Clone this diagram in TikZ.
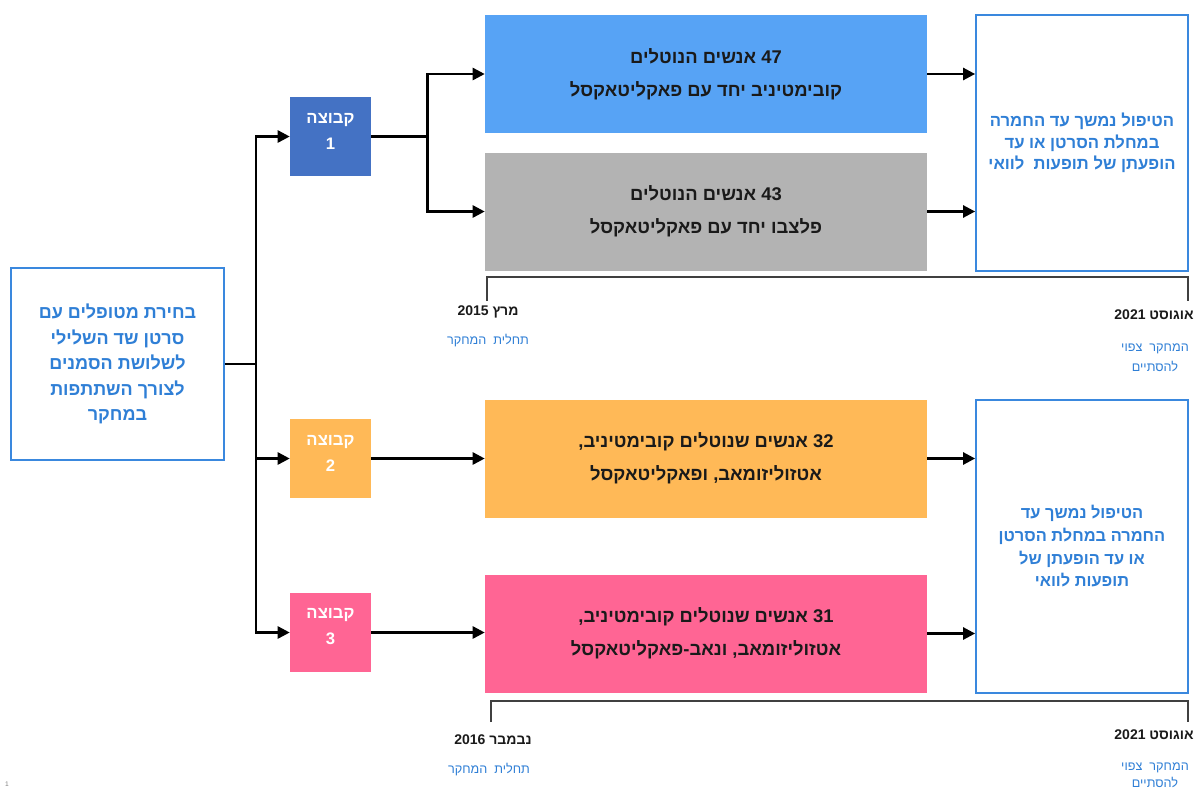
\documentclass[tikz,border=0pt]{standalone}
\usepackage{fontspec}
\setmainfont{Liberation Sans}
\newfontfamily\heb[Script=Hebrew]{Liberation Sans}
\TeXXeTstate=1
\usetikzlibrary{arrows.meta}
\definecolor{cframe}{HTML}{3A88DE}
\definecolor{ctext}{HTML}{2F7FD6}
\definecolor{cgone}{HTML}{4472C4}
\definecolor{cA}{HTML}{57A3F5}
\definecolor{cB}{HTML}{B3B3B3}
\definecolor{corange}{HTML}{FFB957}
\definecolor{cpink}{HTML}{FF6594}
\definecolor{cbr}{HTML}{404040}
\definecolor{cdark}{HTML}{1A1A1A}
\newcommand{\rtl}[1]{\beginR #1\endR}
\begin{document}
\begin{tikzpicture}[x=0.75pt,y=-0.75pt,
  framebox/.style={draw=cframe, line width=1.3pt, fill=white, text=ctext, font=\heb\bfseries, align=center, inner sep=0pt},
  groupbox/.style={draw=none, minimum width=60.75pt, minimum height=59.25pt, text=white, font=\heb\bfseries\fontsize{12.5}{19}\selectfont, align=center, inner sep=0pt},
  grouptext/.style={text=white, font=\heb\bfseries\fontsize{12.5}{19.5}\selectfont, align=center, inner sep=0pt},
  mainbox/.style={draw=none, minimum width=331.5pt, minimum height=88.5pt, text=cdark, font=\heb\bfseries\fontsize{13.8}{25}\selectfont, align=center, inner sep=0pt},
  arr/.style={-{Triangle[length=9pt,width=9pt]}, line width=1.9pt, black},
  conn/.style={line width=1.9pt, black},
  bracket/.style={line width=1.5pt, cbr},
  datelbl/.style={text=cdark, font=\heb\bfseries\fontsize{10.5}{12}\selectfont, inner sep=0pt},
  bluelbl/.style={text=ctext, font=\heb\fontsize{9.5}{12}\selectfont, inner sep=0pt, align=center}
]
\useasboundingbox[fill=white] (0,0) rectangle (1197,790);

% left box
\node[framebox, minimum width=159.75pt, minimum height=144pt, font=\heb\bfseries\fontsize{13.5}{19.2}\selectfont] (L) at (117.5,364)
  {\rtl{בחירת מטופלים עם}\\ \rtl{סרטן שד השלילי}\\ \rtl{לשלושת הסמנים}\\ \rtl{לצורך השתתפות}\\ \rtl{במחקר}};

% group boxes
\node[groupbox, fill=cgone] (g1) at (330.5,136.5) {};
\node[groupbox, fill=corange] (g2) at (330.5,458.5) {};
\node[groupbox, fill=cpink] (g3) at (330.5,632.5) {};
\node[grouptext] (t1) at (330.5,131) {\rtl{קבוצה}\\ 1};
\node[grouptext] (t2) at (330.5,453) {\rtl{קבוצה}\\ 2};
\node[grouptext] (t3) at (330.5,627) {\rtl{קבוצה}\\ 3};

% main boxes
\node[mainbox, fill=cA] (A) at (706,74) {\rtl{47 אנשים הנוטלים}\\ \rtl{קובימטיניב יחד עם פאקליטאקסל}};
\node[mainbox, fill=cB] (B) at (706,211.5) {\rtl{43 אנשים הנוטלים}\\ \rtl{פלצבו יחד עם פאקליטאקסל}};
\node[mainbox, fill=corange] (C) at (706,458.5) {\rtl{32 אנשים שנוטלים קובימטיניב,}\\ \rtl{אטזוליזומאב, ופאקליטאקסל}};
\node[mainbox, fill=cpink] (D) at (706,633.5) {\rtl{31 אנשים שנוטלים קובימטיניב,}\\ \rtl{אטזוליזומאב, ונאב-פאקליטאקסל}};

% right boxes
\node[framebox, minimum width=159pt, minimum height=192pt, font=\heb\bfseries\fontsize{12.5}{16.2}\selectfont] (R1) at (1082,143)
  {\rtl{הטיפול נמשך עד החמרה}\\ \rtl{במחלת הסרטן או עד}\\ \rtl{הופעתן של תופעות\ \ לוואי}};
\node[framebox, minimum width=159pt, minimum height=219.75pt, font=\heb\bfseries\fontsize{12.3}{17}\selectfont] (R2) at (1082,546.5)
  {\rtl{הטיפול נמשך עד}\\ \rtl{החמרה במחלת הסרטן}\\ \rtl{או עד הופעתן של}\\ \rtl{תופעות לוואי}};

% connectors: left split
\draw[conn] (L.east) -- ++(31,0) coordinate (j1);
\draw[arr] (j1) |- (g1.west);
\draw[arr] (j1) |- (g2.west);
\draw[arr] (j1) |- (g3.west);

% group 1 split
\draw[conn] (g1.east) -- ++(56,0) coordinate (j2);
\draw[arr] (j2) |- (A.west);
\draw[arr] (j2) |- (B.west);

% groups 2 and 3
\draw[arr] (g2.east) -- (g2.east -| C.west);
\draw[arr] (g3.east) -- (g3.east -| D.west);

% to right boxes
\draw[arr] (A.east) -- (A.east -| R1.west);
\draw[arr] (B.east) -- (B.east -| R1.west);
\draw[arr] (C.east) -- (C.east -| R2.west);
\draw[arr] (D.east) -- (D.east -| R2.west);

% timeline brackets
\draw[bracket] (487,301) -- (487,277) -- (1188,277) -- (1188,301);
\draw[bracket] (491,722) -- (491,701) -- (1188,701) -- (1188,722);

% timeline labels top
\node[datelbl] (d1) at (488,312) {\rtl{מרץ 2015}};
\node[bluelbl] (b1) at (488,341) {\rtl{תחלית\ \ המחקר}};
\node[datelbl] (d2) at (1154,315) {\rtl{אוגוסט 2021}};
\node[bluelbl] (b2) at (1155,349) {\rtl{המחקר\ \ צפוי}};
\node[bluelbl] (b3) at (1155,366) {\rtl{להסתיים}};

% timeline labels bottom
\node[datelbl] (d3) at (493,740) {\rtl{נבמבר 2016}};
\node[bluelbl] (b4) at (489,770) {\rtl{תחלית\ \ המחקר}};
\node[datelbl] (d4) at (1154,735) {\rtl{אוגוסט 2021}};
\node[bluelbl] (b5) at (1155,768) {\rtl{המחקר\ \ צפוי}};
\node[bluelbl] (b6) at (1155,782) {\rtl{להסתיים}};

% page number
\node[text=gray, font=\fontsize{5}{6}\selectfont, inner sep=0pt] (pn) at (7,784) {1};
\end{tikzpicture}
\end{document}
